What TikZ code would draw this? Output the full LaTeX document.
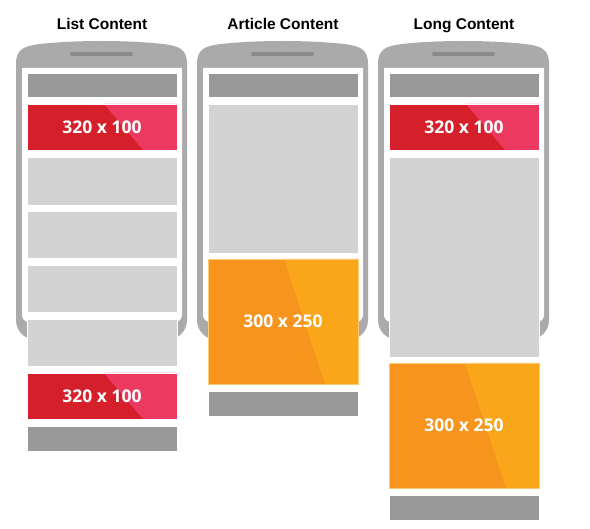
\documentclass[tikz,border=0pt]{standalone}
\usepackage{fontspec}
\setmainfont{Liberation Sans}
\newfontfamily\adfont{Open Sans}
\definecolor{phonegray}{RGB}{170,170,170}
\definecolor{speakergray}{RGB}{138,138,138}
\definecolor{bargray}{RGB}{153,153,153}
\definecolor{fillgray}{RGB}{211,211,211}
\definecolor{adred}{RGB}{213,32,43}
\definecolor{adpink}{RGB}{236,57,95}
\definecolor{adorange}{RGB}{247,148,30}
\definecolor{adamber}{RGB}{249,166,27}

% phone outline with left edge #1: curved top, rounded bottom, white screen, speaker slot
\newcommand\phonebody[1]{%
  \fill[phonegray] (#1,64) .. controls (#1,49) and (#1+8,46) .. (#1+24,44)
    .. controls (#1+60,40) and (#1+111,40) .. (#1+147,44)
    .. controls (#1+163,46) and (#1+171,49) .. (#1+171,64)
    [rounded corners=20pt] -- (#1+171,340) -- (#1,340) [sharp corners] -- cycle;
  \fill[white] (#1+6,68) [rounded corners=7pt] -- (#1+6,322) -- (#1+166,322)
    [sharp corners] -- (#1+166,68) -- cycle;
  \draw[speakergray,line width=4pt,line cap=round] (#1+56,54) -- (#1+115,54);
}

\tikzset{
  box/.style={anchor=north west,minimum width=150pt,inner sep=0pt,outer sep=0pt,
    draw=white,line width=0.6pt},
  header/.style={box,fill=bargray,minimum height=24pt},
  filler/.style={box,fill=fillgray},
  adtext/.style={text=white,font=\adfont\bfseries\fontsize{17.5}{17.5}\selectfont},
  redad/.style={box,adtext,fill=adred,minimum height=46pt,
    path picture={\fill[adpink]
      ([xshift=77pt]path picture bounding box.north west) --
      (path picture bounding box.north east) --
      (path picture bounding box.south east) --
      ([xshift=116pt]path picture bounding box.south west) -- cycle;}},
  orangead/.style={box,adtext,fill=adorange,minimum height=125pt,draw=adamber!60!white,
    path picture={\fill[adamber]
      ([xshift=76pt]path picture bounding box.north west) --
      (path picture bounding box.north east) --
      (path picture bounding box.south east) --
      ([xshift=117pt]path picture bounding box.south west) -- cycle;}},
  title/.style={anchor=base,font=\bfseries\fontsize{15.5}{15.5}\selectfont}
}

\begin{document}
\begin{tikzpicture}[x=1pt,y=-1pt]
\useasboundingbox (0,0) rectangle (590,529);

% list layout
\phonebody{16}
\node[title] (t1) at (102,30) {List Content};
\node[header] (l-head) at (27,73) {};
\node[redad] (l-ad1) at (27,104) {320 x 100};
\node[filler,minimum height=48pt] (l-g1) at (27,157) {};
\node[filler,minimum height=47pt] (l-g2) at (27,211) {};
\node[filler,minimum height=47pt] (l-g3) at (27,265) {};
\node[filler,minimum height=47pt] (l-g4) at (27,319) {};
\node[redad] (l-ad2) at (27,373) {320 x 100};
\node[header,minimum height=25pt] (l-foot) at (27,426) {};

% article layout
\phonebody{197}
\node[title] (t2) at (283,30) {Article Content};
\node[header] (a-head) at (208,73) {};
\node[filler,minimum height=149pt] (a-g1) at (208,104) {};
\node[orangead] (a-ad) at (208,259) {300 x 250};
\node[header,minimum height=25pt] (a-foot) at (208,391) {};

% long layout
\phonebody{378}
\node[title] (t3) at (464,30) {Long Content};
\node[header] (g-head) at (389,73) {};
\node[redad] (g-ad1) at (389,104) {320 x 100};
\node[filler,minimum height=200pt] (g-g1) at (389,157) {};
\node[orangead] (g-ad2) at (389,363) {300 x 250};
\node[header,minimum height=25pt] (g-foot) at (389,495) {};
\end{tikzpicture}
\end{document}
